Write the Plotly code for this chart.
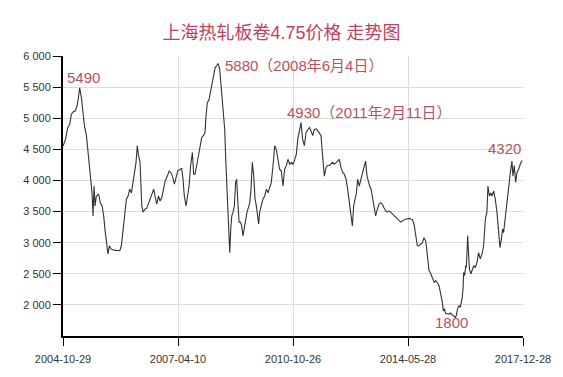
import plotly.graph_objects as go

# trading-day index (series position) and price (yuan/ton)
day = [0, 17, 33, 47, 58, 70, 86, 98, 109, 116, 128, 140, 149, 163, 172, 181, 191, 202, 209, 216,
       223, 232, 248, 260, 272, 283, 293, 302, 313, 323, 334, 353, 376, 395, 406, 418, 429, 441, 453, 464,
       476, 487, 497, 508, 517, 524, 536, 543, 548, 557, 571, 582, 594, 606, 622, 631, 640, 652, 664, 675,
       687, 698, 710, 726, 738, 749, 761, 775, 784, 798, 814, 826, 835, 844, 856, 867, 877, 888, 900, 909,
       918, 930, 942, 953, 965, 976, 988, 995, 1004, 1016, 1030, 1039, 1048, 1058, 1067, 1079, 1090, 1099, 1109, 1113,
       1118, 1125, 1132, 1139, 1146, 1153, 1160, 1167, 1174, 1183, 1192, 1201, 1208, 1215, 1225, 1234, 1243, 1252, 1262, 1271,
       1280, 1289, 1299, 1308, 1317, 1327, 1336, 1345, 1354, 1361, 1368, 1380, 1391, 1403, 1415, 1426, 1438, 1449, 1461, 1473,
       1484, 1496, 1507, 1519, 1530, 1542, 1554, 1565, 1577, 1589, 1600, 1609, 1623, 1633, 1644, 1656, 1667, 1679, 1691, 1702,
       1714, 1725, 1737, 1749, 1760, 1772, 1783, 1795, 1804, 1813, 1818, 1830, 1841, 1853, 1864, 1876, 1888, 1899, 1911, 1922,
       1934, 1946, 1957, 1969, 1980, 1992, 2003, 2013, 2022, 2031, 2041, 2050, 2061, 2073, 2085, 2096, 2105, 2115, 2124, 2133,
       2143, 2152, 2164, 2175, 2187, 2198, 2210, 2221, 2233, 2245, 2256, 2268, 2279, 2291, 2303, 2314, 2326, 2337, 2349, 2361,
       2372, 2384, 2395, 2407, 2418, 2430, 2442, 2453, 2465, 2476, 2488, 2500, 2511, 2523, 2530, 2537, 2546, 2555, 2565, 2574,
       2583, 2592, 2604, 2616, 2627, 2639, 2646, 2653, 2662, 2673, 2685, 2694, 2706, 2718, 2729, 2736, 2745, 2755, 2764, 2776,
       2783, 2787, 2794, 2801, 2806, 2815, 2822, 2827, 2838, 2847, 2857, 2868, 2880, 2891, 2903, 2915, 2926, 2938, 2949, 2956,
       2966, 2975, 2984, 2996, 3007, 3019, 3031, 3040, 3049, 3058, 3065, 3077, 3088, 3100, 3112, 3123, 3130, 3139, 3149, 3158,
       3170, 3181, 3193]

price = [4550, 4660, 4850, 4900, 5060, 5100, 5120, 5200, 5360, 5490, 5330, 5090, 4880, 4720, 4500, 4340, 4020, 3800, 3430, 3910,
         3590, 3750, 3780, 3640, 3590, 3430, 3190, 3030, 2820, 2950, 2900, 2880, 2870, 2870, 2950, 3220, 3430, 3700, 3750, 3860,
         3800, 3970, 4070, 4290, 4560, 4420, 4290, 3970, 3590, 3490, 3540, 3550, 3640, 3700, 3800, 3860, 3750, 3620, 3750, 3670,
         3720, 3860, 3990, 4070, 4150, 4130, 4070, 3940, 4040, 4150, 4180, 4190, 4020, 3750, 3590, 3750, 3910, 4240, 4450, 4100,
         4100, 4240, 4400, 4580, 4690, 4720, 4770, 5040, 5250, 5300, 5465, 5570, 5730, 5810, 5840, 5880, 5790, 5570, 5250, 5140,
         5040, 4820, 4340, 3970, 3640, 3330, 2840, 3220, 3430, 3490, 3590, 3970, 4020, 3700, 3330, 3330, 3270, 3110, 3270, 3430,
         3490, 3560, 3640, 3860, 4290, 4070, 3700, 3590, 3430, 3300, 3490, 3590, 3700, 3750, 3860, 3800, 3910, 3970, 4240, 4560,
         4500, 4290, 4180, 4150, 3910, 4180, 4240, 4340, 4260, 4290, 4260, 4310, 4420, 4660, 4770, 4930, 4660, 4560, 4770, 4820,
         4850, 4800, 4720, 4820, 4830, 4800, 4770, 4720, 4450, 4130, 4070, 4210, 4240, 4240, 4260, 4290, 4260, 4290, 4310, 4340,
         4210, 4130, 4100, 4020, 3860, 3640, 3430, 3270, 3590, 3700, 3800, 4020, 3910, 4020, 4130, 4260, 4310, 4070, 3970, 3910,
         3860, 3750, 3590, 3430, 3540, 3620, 3640, 3620, 3560, 3510, 3490, 3510, 3490, 3460, 3430, 3410, 3380, 3350, 3330, 3350,
         3370, 3380, 3380, 3390, 3380, 3370, 3300, 3110, 2950, 2950, 2970, 3000, 3080, 3030, 2900, 2680, 2550, 2520, 2470, 2420,
         2360, 2390, 2360, 2310, 2200, 2040, 1900, 1940, 1860, 1860, 1850, 1870, 1850, 1830, 1800, 1830, 1940, 1990, 1960, 2100,
         2260, 2520, 2470, 2630, 2600, 3110, 2700, 2580, 2500, 2550, 2630, 2600, 2680, 2840, 2740, 2820, 2950, 3380, 3490, 3910,
         3750, 3800, 3750, 3830, 3700, 3490, 3110, 2920, 3050, 3220, 3160, 3430, 3700, 3860, 4130, 4310, 4070, 4240, 3970, 4130,
         4180, 4260, 4320]

tick_days = [0, 800, 1600, 2400, 3200]
tick_labels = ["2004-10-29", "2007-04-10", "2010-10-26", "2014-05-28", "2017-12-28"]
y_ticks = [2000, 2500, 3000, 3500, 4000, 4500, 5000, 5500, 6000]

title_text = "上海热轧板卷4.75价格 走势图"
notes = [
    {"text": "5490", "day": 142, "price": 5660, "anchor": "center"},
    {"text": "5880（2008年6月4日）", "day": 1116, "price": 5850, "anchor": "left"},
    {"text": "4930（2011年2月11日）", "day": 1547, "price": 5085, "anchor": "left"},
    {"text": "4320", "day": 3068, "price": 4510, "anchor": "center"},
    {"text": "1800", "day": 2706, "price": 1710, "anchor": "center"},
]

FONT = "Arial, 'Liberation Sans', 'Noto Sans CJK SC', sans-serif"

fig = go.Figure()
fig.add_trace(go.Scatter(x=day, y=price, mode="lines",
                         line=dict(color="#333333", width=1.1), hoverinfo="skip"))

for n in notes:
    fig.add_annotation(x=n["day"], y=n["price"], text=n["text"], showarrow=False,
                       xanchor=n["anchor"], yanchor="middle",
                       font=dict(family=FONT, size=15, color="#b9505f"))

fig.update_layout(
    width=563, height=377,
    margin=dict(l=63, r=40, t=56, b=39),
    paper_bgcolor="white", plot_bgcolor="white",
    separators=". ",
    showlegend=False,
    title=dict(text=title_text, x=0.5, xanchor="center", y=1 - 33 / 377, yanchor="middle",
               font=dict(family=FONT, size=18, color="#c2405e")),
    font=dict(family=FONT, size=11, color="#333333"),
)
fig.update_xaxes(range=[0, 3200], tickvals=tick_days, ticktext=tick_labels,
                 showgrid=True, gridcolor="#dcdcdc", gridwidth=1,
                 showline=True, linecolor="black", linewidth=2,
                 ticks="outside", ticklen=8, tickcolor="black", tickwidth=1,
                 ticklabelstandoff=4,
                 zeroline=False, tickfont=dict(size=11, color="#333333"))
fig.update_yaxes(range=[1500, 6000], tickvals=y_ticks, tickformat=",d",
                 showgrid=True, gridcolor="#dcdcdc", gridwidth=1,
                 showline=True, linecolor="black", linewidth=2,
                 ticks="outside", ticklen=8, tickcolor="black", tickwidth=1,
                 zeroline=False, tickfont=dict(size=11, color="#333333"))

fig.write_html("out.html")
